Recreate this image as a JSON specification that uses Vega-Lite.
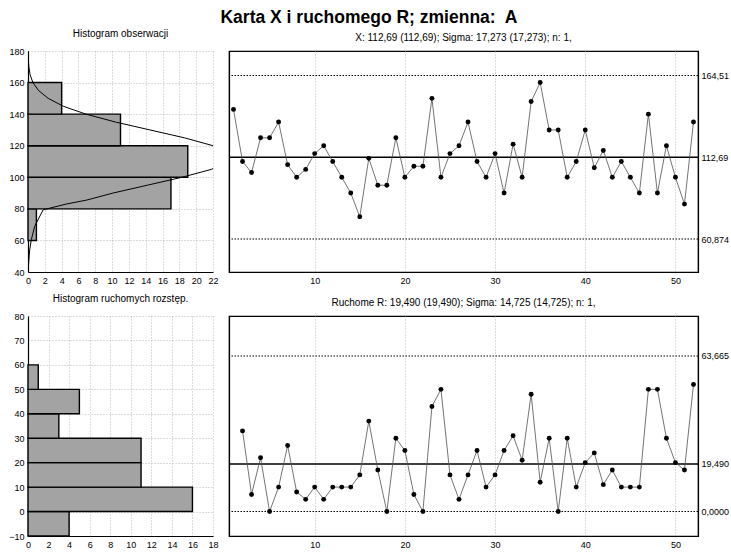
{
  "$schema": "https://vega.github.io/schema/vega-lite/v6.json",
  "title": {"text": "Karta X i ruchomego R; zmienna:\u00a0 A", "fontSize": 17.5, "fontWeight": "bold", "anchor": "middle", "offset": 3, "font": "Liberation Sans", "color": "black"},
  "padding": {"left": 8, "right": 2, "top": 8, "bottom": 4},
  "background": "white",
  "datasets": {
    "obs": [
      {"i":1,"x":143},{"i":2,"x":110},{"i":3,"x":103},{"i":4,"x":125},{"i":5,"x":125},{"i":6,"x":135},{"i":7,"x":108},{"i":8,"x":100},{"i":9,"x":105},{"i":10,"x":115},
      {"i":11,"x":120},{"i":12,"x":110},{"i":13,"x":100},{"i":14,"x":90},{"i":15,"x":75},{"i":16,"x":112},{"i":17,"x":95},{"i":18,"x":95},{"i":19,"x":125},{"i":20,"x":100},
      {"i":21,"x":107},{"i":22,"x":107},{"i":23,"x":150},{"i":24,"x":100},{"i":25,"x":115},{"i":26,"x":120},{"i":27,"x":135},{"i":28,"x":110},{"i":29,"x":100},{"i":30,"x":115},
      {"i":31,"x":90},{"i":32,"x":121},{"i":33,"x":100},{"i":34,"x":148},{"i":35,"x":160},{"i":36,"x":130},{"i":37,"x":130},{"i":38,"x":100},{"i":39,"x":110},{"i":40,"x":130},
      {"i":41,"x":106},{"i":42,"x":117},{"i":43,"x":100},{"i":44,"x":110},{"i":45,"x":100},{"i":46,"x":90},{"i":47,"x":140},{"i":48,"x":90},{"i":49,"x":120},{"i":50,"x":100},
      {"i":51,"x":83},{"i":52,"x":135}
    ],
    "mr": [
      {"i":2,"r":33},{"i":3,"r":7},{"i":4,"r":22},{"i":5,"r":0},{"i":6,"r":10},{"i":7,"r":27},{"i":8,"r":8},{"i":9,"r":5},{"i":10,"r":10},
      {"i":11,"r":5},{"i":12,"r":10},{"i":13,"r":10},{"i":14,"r":10},{"i":15,"r":15},{"i":16,"r":37},{"i":17,"r":17},{"i":18,"r":0},{"i":19,"r":30},{"i":20,"r":25},
      {"i":21,"r":7},{"i":22,"r":0},{"i":23,"r":43},{"i":24,"r":50},{"i":25,"r":15},{"i":26,"r":5},{"i":27,"r":15},{"i":28,"r":25},{"i":29,"r":10},{"i":30,"r":15},
      {"i":31,"r":25},{"i":32,"r":31},{"i":33,"r":21},{"i":34,"r":48},{"i":35,"r":12},{"i":36,"r":30},{"i":37,"r":0},{"i":38,"r":30},{"i":39,"r":10},{"i":40,"r":20},
      {"i":41,"r":24},{"i":42,"r":11},{"i":43,"r":17},{"i":44,"r":10},{"i":45,"r":10},{"i":46,"r":10},{"i":47,"r":50},{"i":48,"r":50},{"i":49,"r":30},{"i":50,"r":20},
      {"i":51,"r":17},{"i":52,"r":52}
    ],
    "histX": [
      {"lo":60,"hi":80,"n":1},{"lo":80,"hi":100,"n":17},{"lo":100,"hi":120,"n":19},{"lo":120,"hi":140,"n":11},{"lo":140,"hi":160,"n":4}
    ],
    "histR": [
      {"lo":-10,"hi":0,"n":4},{"lo":0,"hi":10,"n":16},{"lo":10,"hi":20,"n":11},{"lo":20,"hi":30,"n":11},{"lo":30,"hi":40,"n":3},{"lo":40,"hi":50,"n":5},{"lo":50,"hi":60,"n":1}
    ],
    "curveX": [
      {"v":40.5,"n":0},{"v":54,"n":0.2},{"v":60.6,"n":0.4},{"v":69,"n":0.8},{"v":79.4,"n":1.8},{"v":83.1,"n":4.6},{"v":85.6,"n":7},
      {"v":90,"n":10.1},{"v":95,"n":14.2},{"v":100,"n":18.3},{"v":105,"n":21.8},{"v":110,"n":23.7},{"v":115,"n":23.8},{"v":120,"n":22},
      {"v":125,"n":18.6},{"v":130,"n":14.5},{"v":135,"n":10.4},{"v":140,"n":6.9},{"v":145,"n":4.2},{"v":150,"n":2.4},{"v":155,"n":1.25},
      {"v":160,"n":0.58},{"v":165,"n":0.25},{"v":170,"n":0.1},{"v":175,"n":0.04},{"v":180,"n":0.01}
    ],
    "limX": [{"v":164.51},{"v":60.874}],
    "cenX": [{"v":112.69}],
    "limR": [{"v":63.665},{"v":0}],
    "cenR": [{"v":19.49}]
  },
  "spacing": 8,
  "vconcat": [
    {
      "bounds": "flush",
      "spacing": 16,
      "hconcat": [
        {
          "width": 185, "height": 221,
          "title": {"text": "Histogram obserwacji"},
          "layer": [
            {
              "data": {"name": "histX"},
              "mark": {"type": "bar", "fill": "#a3a3a3", "stroke": "black", "strokeWidth": 1.4},
              "encoding": {
                "y": {"field": "lo", "type": "quantitative", "scale": {"domain": [40, 180], "nice": false, "zero": false}, "axis": {"values": [40,60,80,100,120,140,160,180], "title": null}},
                "y2": {"field": "hi"},
                "x": {"field": "n", "type": "quantitative", "scale": {"domain": [0, 22], "nice": false}, "axis": {"values": [0,2,4,6,8,10,12,14,16,18,20,22], "title": null}},
                "x2": {"datum": 0}
              }
            },
            {
              "data": {"name": "curveX"},
              "mark": {"type": "line", "color": "black", "strokeWidth": 1, "clip": true},
              "encoding": {
                "x": {"field": "n", "type": "quantitative", "axis": {"values": [0,2,4,6,8,10,12,14,16,18,20,22], "title": null}},
                "y": {"field": "v", "type": "quantitative", "axis": {"values": [40,60,80,100,120,140,160,180], "title": null}},
                "order": {"field": "v", "type": "quantitative"}
              }
            }
          ]
        },
        {
          "width": 469, "height": 221,
          "title": {"text": "X: 112,69 (112,69); Sigma: 17,273 (17,273); n: 1,"},
          "view": {"stroke": "black", "strokeWidth": 1.2},
          "layer": [
            {
              "data": {"name": "limX"},
              "mark": {"type": "rule", "color": "black", "strokeDash": [1.5, 1.5], "strokeWidth": 1.1},
              "encoding": {
                "y": {"field": "v", "type": "quantitative", "scale": {"domain": [40, 180], "nice": false, "zero": false},
                      "axis": {"orient": "right", "values": [60.874, 112.69, 164.51], "grid": false, "title": null, "labelPadding": 3, "labelExpr": "replace(format(datum.value, '.5r'), '.', ',')"}}
              }
            },
            {
              "data": {"name": "cenX"},
              "mark": {"type": "rule", "color": "black", "strokeWidth": 1.5},
              "encoding": {"y": {"field": "v", "type": "quantitative", "axis": null}}
            },
            {
              "data": {"name": "obs"},
              "mark": {"type": "line", "color": "#505050", "strokeWidth": 0.8},
              "encoding": {
                "x": {"field": "i", "type": "quantitative", "scale": {"domain": [0.5, 52.5], "nice": false, "zero": false}, "axis": {"values": [10,20,30,40,50], "title": null}},
                "y": {"field": "x", "type": "quantitative", "axis": {"orient": "left", "values": [60,80,100,120,140,160], "labels": false, "title": null}}
              }
            },
            {
              "data": {"name": "obs"},
              "mark": {"type": "point", "filled": true, "color": "black", "opacity": 1, "size": 24},
              "encoding": {
                "x": {"field": "i", "type": "quantitative", "axis": {"values": [10,20,30,40,50], "title": null}},
                "y": {"field": "x", "type": "quantitative", "axis": null}
              }
            }
          ],
          "resolve": {"axis": {"y": "independent"}}
        }
      ]
    },
    {
      "bounds": "flush",
      "spacing": 16,
      "hconcat": [
        {
          "width": 185, "height": 220,
          "title": {"text": "Histogram ruchomych rozstęp."},
          "data": {"name": "histR"},
          "mark": {"type": "bar", "fill": "#a3a3a3", "stroke": "black", "strokeWidth": 1.4},
          "encoding": {
            "y": {"field": "lo", "type": "quantitative", "scale": {"domain": [-10, 80], "nice": false, "zero": false}, "axis": {"values": [-10,0,10,20,30,40,50,60,70,80], "title": null}},
            "y2": {"field": "hi"},
            "x": {"field": "n", "type": "quantitative", "scale": {"domain": [0, 18], "nice": false}, "axis": {"values": [0,2,4,6,8,10,12,14,16,18], "title": null}},
            "x2": {"datum": 0}
          }
        },
        {
          "width": 469, "height": 220,
          "title": {"text": "Ruchome R: 19,490 (19,490); Sigma: 14,725 (14,725); n: 1,"},
          "view": {"stroke": "black", "strokeWidth": 1.2},
          "layer": [
            {
              "data": {"name": "limR"},
              "mark": {"type": "rule", "color": "black", "strokeDash": [1.5, 1.5], "strokeWidth": 1.1},
              "encoding": {
                "y": {"field": "v", "type": "quantitative", "scale": {"domain": [-10, 80], "nice": false, "zero": false},
                      "axis": {"orient": "right", "values": [0, 19.49, 63.665], "grid": false, "title": null, "labelPadding": 3, "labelExpr": "datum.value == 0 ? '0,0000' : replace(format(datum.value, '.5r'), '.', ',')"}}
              }
            },
            {
              "data": {"name": "cenR"},
              "mark": {"type": "rule", "color": "black", "strokeWidth": 1.5},
              "encoding": {"y": {"field": "v", "type": "quantitative", "axis": null}}
            },
            {
              "data": {"name": "mr"},
              "mark": {"type": "line", "color": "#505050", "strokeWidth": 0.8},
              "encoding": {
                "x": {"field": "i", "type": "quantitative", "scale": {"domain": [0.5, 52.5], "nice": false, "zero": false}, "axis": {"values": [10,20,30,40,50], "title": null}},
                "y": {"field": "r", "type": "quantitative", "axis": {"orient": "left", "values": [0,10,20,30,40,50,60,70], "labels": false, "title": null}}
              }
            },
            {
              "data": {"name": "mr"},
              "mark": {"type": "point", "filled": true, "color": "black", "opacity": 1, "size": 24},
              "encoding": {
                "x": {"field": "i", "type": "quantitative", "axis": {"values": [10,20,30,40,50], "title": null}},
                "y": {"field": "r", "type": "quantitative", "axis": null}
              }
            }
          ],
          "resolve": {"axis": {"y": "independent"}}
        }
      ]
    }
  ],
  "config": {
    "font": "Liberation Sans",
    "view": {"stroke": null},
    "title": {"font": "Liberation Sans", "fontSize": 10, "fontWeight": "normal", "color": "black", "offset": 8, "anchor": "middle"},
    "axis": {
      "labelFont": "Liberation Sans", "labelFontSize": 9, "labelColor": "black",
      "domainColor": "black", "domainWidth": 1.2,
      "grid": true, "gridColor": "#a8a8a8", "gridDash": [1, 2], "gridWidth": 0.8,
      "ticks": false, "tickSize": 0, "labelPadding": 4,
      "labelFlush": false, "labelOverlap": false
    }
  }
}
